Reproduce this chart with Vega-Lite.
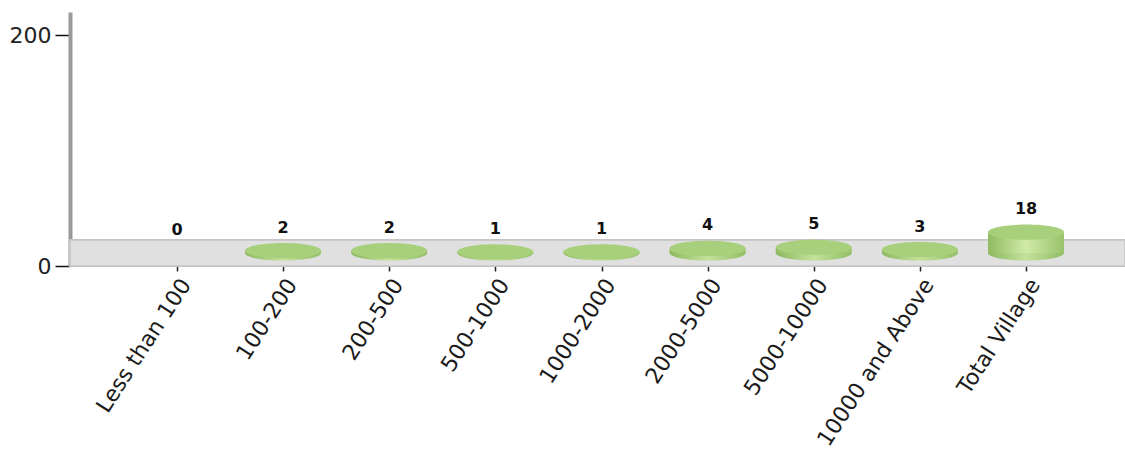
{
  "$schema": "https://vega.github.io/schema/vega-lite/v6.json",
  "autosize": {"type": "none"},
  "padding": {"left": 70, "top": 12, "right": 0, "bottom": 193},
  "width": 1055,
  "height": 254,
  "background": "white",
  "config": {"view": {"stroke": null}},
  "data": {"values": [
    {"category": "Less than 100", "villages": 0},
    {"category": "100-200", "villages": 2},
    {"category": "200-500", "villages": 2},
    {"category": "500-1000", "villages": 1},
    {"category": "1000-2000", "villages": 1},
    {"category": "2000-5000", "villages": 4},
    {"category": "5000-10000", "villages": 5},
    {"category": "10000 and Above", "villages": 3},
    {"category": "Total Village", "villages": 18}
  ]},
  "encoding": {
    "x": {
      "field": "category", "type": "nominal",
      "sort": ["Less than 100", "100-200", "200-500", "500-1000", "1000-2000", "2000-5000", "5000-10000", "10000 and Above", "Total Village"],
      "scale": {"type": "point", "range": [107, 956], "padding": 0},
      "axis": {
        "title": null, "domain": false, "ticks": true, "tickSize": 5, "tickColor": "#222", "tickWidth": 1.5,
        "labelAngle": -57, "labelBaseline": "top", "labelFont": "DejaVu Sans", "labelFontSize": 22, "labelColor": "#1a1a1a",
        "labelPadding": 4, "labelOverlap": false, "labelLimit": 400
      }
    },
    "y": {
      "field": "villages", "type": "quantitative",
      "scale": {"domain": [0, 220], "nice": false},
      "axis": {
        "title": null, "values": [0, 200], "grid": false,
        "domainColor": "#9a9a9a", "domainWidth": 4,
        "tickColor": "#111", "tickSize": 15, "tickWidth": 1.5,
        "labelFont": "DejaVu Sans", "labelFontSize": 22, "labelColor": "#222", "labelPadding": 4
      }
    }
  },
  "layer": [
    {
      "mark": {"type": "rect", "fill": "#e0e0e0", "stroke": "#c4c4c4", "strokeWidth": 1.5, "opacity": 1},
      "encoding": {"x": null, "y": {"datum": 0, "type": "quantitative"}, "y2": {"datum": 22.5}}
    },
    {
      "transform": [{"filter": "datum.villages > 0"}],
      "mark": {"type": "point", "shape": "M -1 0 A 1 0.2 0 1 1 1 0 A 1 0.2 0 1 1 -1 0 Z", "size": 5776, "filled": true, "opacity": 1, "yOffset": -13,
        "fill": {"gradient": "linear", "x1": 0, "x2": 1, "y1": 0, "y2": 0, "stops": [{"offset": 0, "color": "#8cb860"}, {"offset": 0.5, "color": "#c4e29a"}, {"offset": 1, "color": "#92bd66"}]}},
      "encoding": {"y": {"datum": 0, "type": "quantitative"}}
    },
    {
      "transform": [{"filter": "datum.villages > 0"}],
      "mark": {"type": "bar", "width": 76, "opacity": 1, "yOffset": -13,
        "fill": {"gradient": "linear", "x1": 0, "x2": 1, "y1": 0, "y2": 0, "stops": [{"offset": 0, "color": "#8fba62"}, {"offset": 0.5, "color": "#d0eaa8"}, {"offset": 1, "color": "#98c26c"}]}}
    },
    {
      "transform": [{"filter": "datum.villages > 0"}],
      "mark": {"type": "point", "shape": "M -1 0 A 1 0.2 0 1 1 1 0 A 1 0.2 0 1 1 -1 0 Z", "size": 5776, "filled": true, "opacity": 1, "yOffset": -13, "fill": "#a8d07c"}
    },
    {
      "mark": {"type": "text", "dy": -36, "baseline": "middle", "font": "DejaVu Sans", "fontSize": 16, "fontWeight": "bold", "color": "#111"},
      "encoding": {"text": {"field": "villages", "type": "quantitative"}}
    }
  ]
}
